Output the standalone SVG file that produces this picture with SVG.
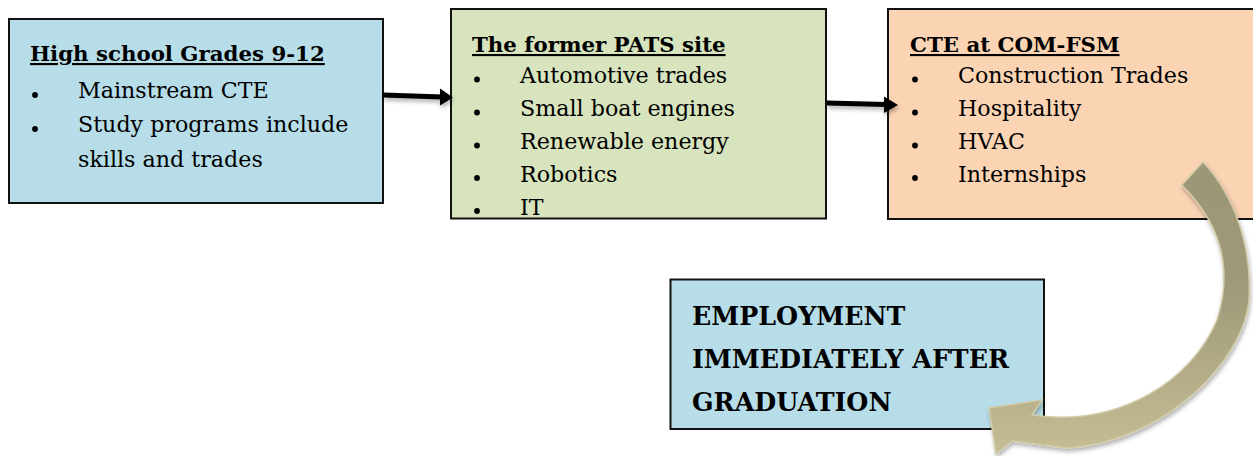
<svg xmlns="http://www.w3.org/2000/svg" width="1253" height="456" viewBox="0 0 1253 456">
<style>
.box{stroke:#111;stroke-width:2}
.t{font-family:"DejaVu Serif","Liberation Serif",serif;fill:#000}
.r{font-size:22.2px}
.h{font-size:21.3px;font-weight:bold;text-decoration:underline}
.big{font-size:25.3px;font-weight:bold}
.dot{fill:#000}
.shaft{stroke:#000;stroke-width:5}
.head{fill:#000}
</style>
<defs>
<linearGradient id="cg" gradientUnits="userSpaceOnUse" x1="0" y1="160" x2="0" y2="455">
<stop offset="0" stop-color="#9a9676"/>
<stop offset="0.45" stop-color="#9f9b7a"/>
<stop offset="1" stop-color="#c6bd94"/>
</linearGradient>
<filter id="sh" filterUnits="userSpaceOnUse" x="0" y="0" width="1253" height="456">
<feDropShadow dx="1" dy="3" stdDeviation="2" flood-color="#000" flood-opacity="0.3"/>
</filter>
</defs>

<g id="node-highschool">
<rect class="box" x="9" y="19" width="374" height="184" fill="#b7dde8"/>
<text class="t h" x="30" y="61">High school Grades 9-12</text>
<circle class="dot" cx="35" cy="95" r="2.9"/>
<text class="t r" x="78" y="98">Mainstream CTE</text>
<circle class="dot" cx="35" cy="129" r="2.9"/>
<text class="t r" x="78" y="132">Study programs include</text>
<text class="t r" x="78" y="167">skills and trades</text>
</g>

<g id="node-pats">
<rect class="box" x="451" y="9" width="375" height="209.5" fill="#d7e4bd"/>
<text class="t h" x="472" y="52">The former PATS site</text>
<circle class="dot" cx="477" cy="79.5" r="2.9"/>
<text class="t r" x="520" y="83">Automotive trades</text>
<circle class="dot" cx="477" cy="112.5" r="2.9"/>
<text class="t r" x="520" y="116">Small boat engines</text>
<circle class="dot" cx="477" cy="145.5" r="2.9"/>
<text class="t r" x="520" y="149">Renewable energy</text>
<circle class="dot" cx="477" cy="178" r="2.9"/>
<text class="t r" x="520" y="181.5">Robotics</text>
<circle class="dot" cx="477" cy="211" r="2.9"/>
<text class="t r" x="520" y="214.5">IT</text>
</g>

<g id="node-comfsm">
<rect class="box" x="888" y="9" width="380" height="210" fill="#fbd4b4"/>
<text class="t h" x="910" y="52">CTE at COM-FSM</text>
<circle class="dot" cx="915" cy="79.5" r="2.9"/>
<text class="t r" x="958" y="83">Construction Trades</text>
<circle class="dot" cx="915" cy="112.5" r="2.9"/>
<text class="t r" x="958" y="116">Hospitality</text>
<circle class="dot" cx="915" cy="145.5" r="2.9"/>
<text class="t r" x="958" y="149">HVAC</text>
<circle class="dot" cx="915" cy="178" r="2.9"/>
<text class="t r" x="958" y="181.5">Internships</text>
</g>

<g id="node-employment">
<rect class="box" x="670.5" y="279.5" width="373.5" height="149.5" fill="#b7dde8"/>
<text class="t big" x="692" y="325">EMPLOYMENT</text>
<text class="t big" x="692" y="368">IMMEDIATELY AFTER</text>
<text class="t big" x="692" y="411">GRADUATION</text>
</g>

<g id="connectors">
<g filter="url(#sh)">
<line class="shaft" x1="383" y1="95" x2="442" y2="97"/>
<path class="head" d="M440,88.5 L453,97.5 L440,105.5 Z"/>
</g>
<g filter="url(#sh)">
<line class="shaft" x1="827" y1="103" x2="886" y2="104.5"/>
<path class="head" d="M884,96.5 L898,105 L884,113 Z"/>
</g>
<path d="M1182,185 L1203,162 C1234,195 1252,245 1249,300 C1244,360 1165,442 1067,448 L1012,441 L996,454 L989,408 L1042,400 L1032,415 C1120,428 1192,380 1217,320 C1233,270 1222,225 1182,185 Z" fill="url(#cg)" stroke="#d2cba6" stroke-width="1.5" filter="url(#sh)"/>
</g>
</svg>
